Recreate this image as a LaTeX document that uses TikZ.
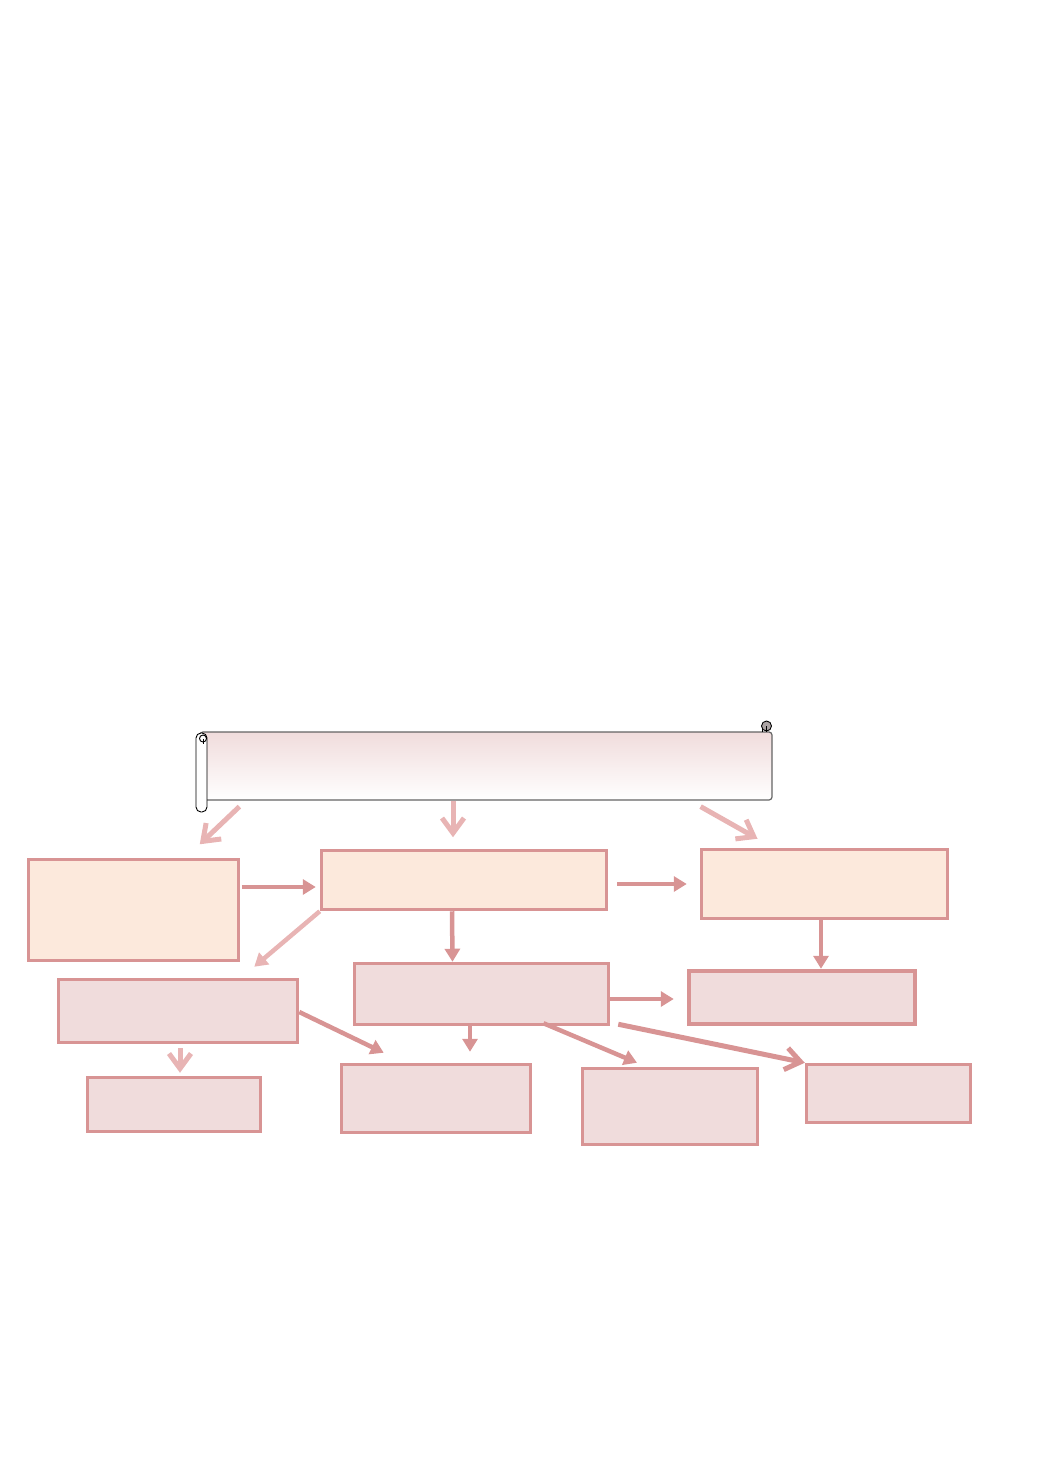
\documentclass[tikz,border=0pt]{standalone}
\usepackage{tikz}
\usetikzlibrary{arrows.meta,calc,positioning}
\definecolor{edgepink}{RGB}{216,148,148}
\definecolor{peachfill}{RGB}{252,233,220}
\definecolor{rosefill}{RGB}{240,220,220}
\definecolor{palearrow}{RGB}{232,180,180}
\definecolor{scrollline}{RGB}{100,100,100}
\tikzset{
  peachbox/.style={draw=edgepink, fill=peachfill, line width=3.5pt, inner sep=0pt},
  rosebox/.style={draw=edgepink, fill=rosefill, line width=3.5pt, inner sep=0pt},
  darkarrow/.style={draw=edgepink, line width=4.5pt, -{Triangle[length=13pt,width=15pt]}},
  palearrowtip/.style={draw=palearrow, line width=4.5pt, -{Triangle[length=13pt,width=15pt]}},
  palebarb/.style={draw=palearrow, line width=5pt, -{Straight Barb[length=15pt,width=22pt]}},
  darkbarb/.style={draw=edgepink, line width=5pt, -{Straight Barb[length=15pt,width=22pt]}}
}
\begin{document}
\begin{tikzpicture}[x=1pt,y=-1pt]
\useasboundingbox (0,0) rectangle (1040,1471);

% scroll banner
\node[draw=scrollline, line width=1.2pt, rounded corners=3pt, top color=rosefill, bottom color=white,
      minimum width=572pt, minimum height=68pt, inner sep=0pt] (title) at (486,766) {};
\filldraw[draw=black, fill=white, line width=0.9pt, rounded corners=5pt] (196,733) rectangle (207,812);
\draw[black, line width=0.9pt] (203,738.5) circle (3.5);
\draw[black, line width=0.9pt] (203,738.5) -- (203,744);
\filldraw[draw=black, fill=gray!60!rosefill, line width=0.9pt] (766.5,726) circle (5);
\draw[black, line width=0.7pt] (762,732) -- (762,728) (766.5,726) -- (766.5,732);

% first row
\node[peachbox, minimum width=210pt, minimum height=101pt] (cause) at (133.5,910) {};
\node[peachbox, minimum width=285pt, minimum height=59pt] (core) at (464,880) {};
\node[peachbox, minimum width=246pt, minimum height=69pt] (effect) at (824.5,884) {};

% second row
\node[rosebox, minimum width=239pt, minimum height=63pt] (left) at (178,1011) {};
\node[rosebox, minimum width=254pt, minimum height=61pt] (mid) at (481.5,994) {};
\node[rosebox, line width=4.5pt, minimum width=226pt, minimum height=53pt] (right) at (802,997.5) {};

% third row
\node[rosebox, minimum width=173pt, minimum height=54pt] (leafa) at (174,1104.5) {};
\node[rosebox, minimum width=189pt, minimum height=68pt] (leafb) at (436,1098.5) {};
\node[rosebox, minimum width=175pt, minimum height=76pt] (leafc) at (670,1106.5) {};
\node[rosebox, minimum width=164pt, minimum height=58pt] (leafd) at (888.5,1093.5) {};

% arrows from the banner
\draw[palebarb] ($(title.south west)+(40,6)$) -- ($(cause.north east)+(-40.5,-13.5)$);
\draw[palebarb] ($(title.south)+(-33,0)$) -- ($(core.north)+(-11,-11.5)$);
\draw[palebarb] ($(title.south east)+(-72,6)$) -- ($(effect.north)+(-67,-9)$);

% arrows between boxes
\draw[darkarrow] ($(cause.east)+(1.5,-23)$) -- ($(core.west)+(-4,7)$);
\draw[darkarrow] ($(core.east)+(9,4)$) -- ($(effect.west)+(-13,0)$);
\draw[palearrowtip] (core.south west) -- ($(left.north east)+(-45,-11)$);
\draw[darkarrow] ($(core.south)+(-12,0)$) -- ($(mid.north)+(-29,0)$);
\draw[darkarrow] ($(effect.south)+(-3.5,0)$) -- ($(right.north)+(19,0)$);
\draw[darkarrow] ($(mid.east)+(0,5)$) -- ($(right.west)+(-13,1.5)$);
\draw[darkarrow] ($(left.east)+(0,1)$) -- ($(leafb.north west)+(44,-10)$);
\draw[palebarb] ($(left.south)+(2,4)$) -- ($(leafa.north)+(6,-3)$);
\draw[darkarrow] ($(mid.south)+(-11.5,0)$) -- ($(leafb.north)+(34,-11)$);
\draw[darkarrow] ($(mid.south)+(62,-3)$) -- ($(leafc.north)+(-33,-4)$);
\draw[darkbarb] ($(mid.south east)+(8,-2)$) -- (leafd.north west);
\end{tikzpicture}
\end{document}
